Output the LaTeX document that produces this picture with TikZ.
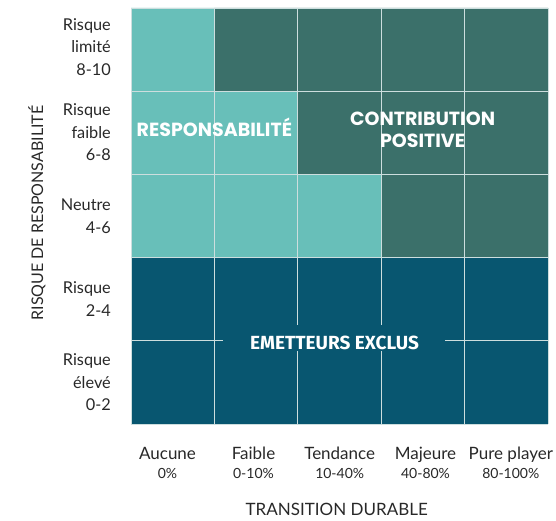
\documentclass[tikz,border=0pt]{standalone}
\usepackage{fontspec}
\setmainfont{Lato}
\newfontfamily\zonefont{Poppins}
\newfontfamily\exclfont{Fira Sans}
\definecolor{clair}{RGB}{104,191,185}
\definecolor{fonce}{RGB}{59,112,106}
\definecolor{bleu}{RGB}{8,86,112}
\definecolor{trait}{RGB}{205,222,222}
\definecolor{texte}{RGB}{40,40,40}
\begin{document}
\begin{tikzpicture}[x=1pt,y=-1pt,
  risque/.style={anchor=east,align=right,text=texte,inner sep=0pt,
    font=\fontsize{16.3}{22.5}\selectfont},
  transition/.style={anchor=base,text=texte,inner sep=0pt,font=\fontsize{17}{18}\selectfont},
  pct/.style={anchor=base,text=texte,inner sep=0pt,font=\fontsize{14}{15}\selectfont},
  zone/.style={anchor=base,text=white,inner sep=0pt,font=\zonefont\bfseries\fontsize{19}{22.5}\selectfont}]
\useasboundingbox (0,0) rectangle (556,521);
%\draw[step=50,gray,very thin] (0,0) grid (556,521); %background grid
% zones
\fill[bleu] (131,257.6) rectangle (548,424);
\fill[clair] (131,8) -- (214.4,8) -- (214.4,91.2) -- (297.8,91.2) -- (297.8,174.4)
  -- (381.2,174.4) -- (381.2,257.6) -- (131,257.6) -- cycle;
\fill[fonce] (214.4,8) -- (548,8) -- (548,257.6) -- (381.2,257.6) -- (381.2,174.4)
  -- (297.8,174.4) -- (297.8,91.2) -- (214.4,91.2) -- cycle;
% grille
\foreach \i in {0,...,5}{
  \draw[trait,line width=0.8pt] (131+83.4*\i,8) -- (131+83.4*\i,424);
  \draw[trait,line width=0.8pt] (131,8+83.2*\i) -- (548,8+83.2*\i);
}
\fill[bleu] (223,325) rectangle (445,351);
% textes des zones
\node[zone] (resp) at (214.4,137) {RESPONSABILITÉ};
\node[zone] (contrib) at (422.6,125.7) {CONTRIBUTION};
\node[zone] (positive) at (422.6,148) {POSITIVE};
\node[anchor=base,text=white,inner sep=0pt,font=\exclfont\bfseries\fontsize{19}{20}\selectfont]
  (exclus) at (334.6,349) {EMETTEURS EXCLUS};
% axe vertical
\node[risque] (r1) at (111,47) {Risque\\limité\\8-10};
\node[risque] (r2) at (111,132.6) {Risque\\faible\\6-8};
\node[risque] (r3) at (111,216) {Neutre\\4-6};
\node[risque] (r4) at (111,299.2) {Risque\\2-4};
\node[risque] (r5) at (111,382.4) {Risque\\élevé\\0-2};
\node[rotate=90,text=texte,font=\fontsize{16}{16}\selectfont] (axey) at (37,213) {RISQUE DE RESPONSABILITÉ};
% axe horizontal
\node[transition] (t1) at (167.5,459) {Aucune};
\node[transition] (t2) at (253.5,459) {Faible};
\node[transition] (t3) at (339.7,459) {Tendance};
\node[transition] (t4) at (425.5,459) {Majeure};
\node[transition] (t5) at (510.8,459) {Pure player};
\node[pct] (p1) at (167.5,478) {0\%};
\node[pct] (p2) at (253.5,478) {0-10\%};
\node[pct] (p3) at (339.7,478) {10-40\%};
\node[pct] (p4) at (425.5,478) {40-80\%};
\node[pct] (p5) at (510.8,478) {80-100\%};
\node[transition] (axex) at (336.7,515) {TRANSITION DURABLE};
\end{tikzpicture}
\end{document}
